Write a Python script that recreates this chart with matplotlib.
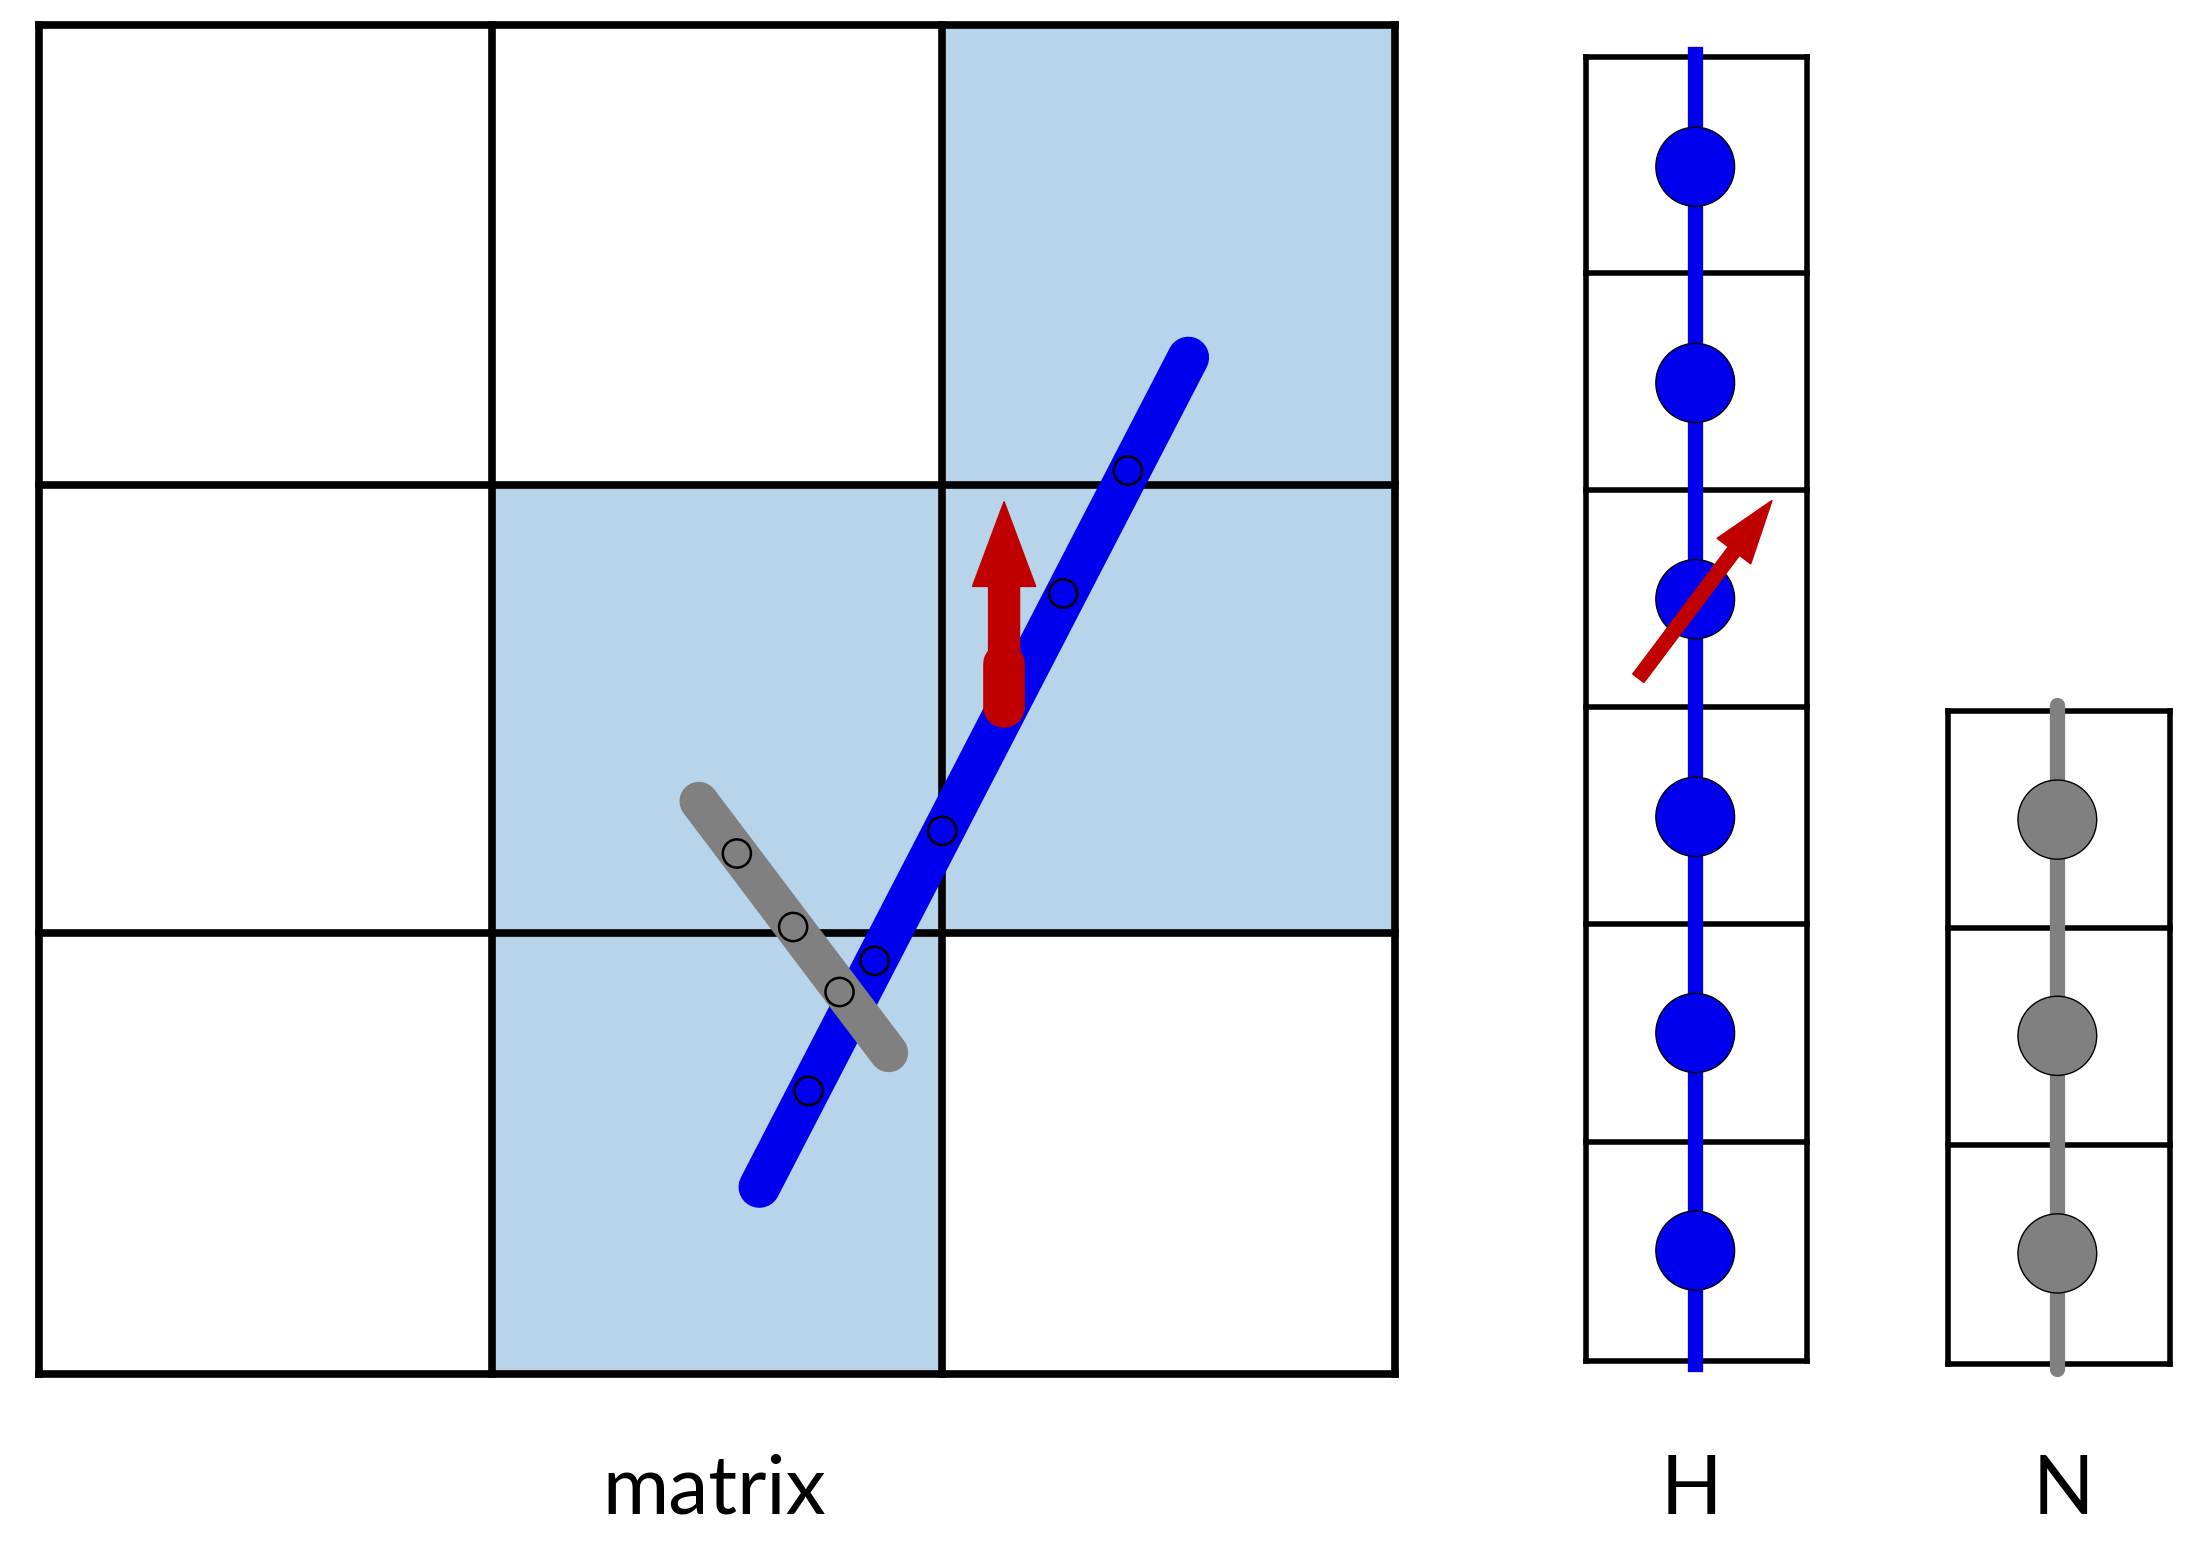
import matplotlib.pyplot as plt
from matplotlib.patches import Rectangle, Circle, FancyArrow

# layout in reference pixel space (display 1560x1100)
grid_x = [28, 350, 670, 992]
grid_y = [18, 343, 660, 972]
shaded = [(2, 0), (1, 1), (2, 1), (1, 2)]  # (col, row)

blue_line = [(540, 840), (845, 253)]
blue_pts = [(575, 772), (622, 680), (670, 588), (756, 420), (802, 333)]
gray_line = [(497, 567), (632, 745)]
gray_pts = [(524, 604), (564, 656), (597, 702)]

h_x = [1128, 1285]
h_y = [40, 193, 347, 500, 654, 808, 963]
h_dots = [118, 271, 424, 578, 731, 885]
n_x = [1385, 1543]
n_y = [503, 657, 810, 965]
n_dots = [580, 733, 887]

BLUE = '#0000ee'
GRAY = '#808080'
RED = '#c00000'
SHADE = '#b8d4eb'

fig = plt.figure(figsize=(22.05, 15.53), dpi=100)
ax = fig.add_axes([0, 0, 1, 1])
ax.set_xlim(0, 1568)
ax.set_ylim(1099, 0)
ax.axis('off')

for c, r in shaded:
    ax.add_patch(Rectangle((grid_x[c], grid_y[r]), grid_x[c + 1] - grid_x[c],
                           grid_y[r + 1] - grid_y[r], color=SHADE, zorder=0))
for x in grid_x:
    ax.plot([x, x], [grid_y[0], grid_y[-1]], color='black', lw=5.5, zorder=1)
for y in grid_y:
    ax.plot([grid_x[0], grid_x[-1]], [y, y], color='black', lw=5.5, zorder=1)

ax.plot(*zip(*blue_line), color=BLUE, lw=30, solid_capstyle='round', zorder=2)
ax.plot(*zip(*gray_line), color=GRAY, lw=28, solid_capstyle='round', zorder=3)
for x, y in blue_pts:
    ax.add_patch(Circle((x, y), 10, fc=BLUE, ec='black', lw=1.8, zorder=4))
for x, y in gray_pts:
    ax.add_patch(Circle((x, y), 10, fc=GRAY, ec='black', lw=1.8, zorder=4))

ax.add_patch(FancyArrow(714, 500, 0, -85, width=22, head_width=45, head_length=60,
                        color=RED, zorder=5))
ax.plot([714, 714], [500, 470], color=RED, lw=30, solid_capstyle='round', zorder=5)

# H column
for y in h_y:
    ax.plot(h_x, [y, y], color='black', lw=4, zorder=1)
for x in h_x:
    ax.plot([x, x], [h_y[0], h_y[-1]], color='black', lw=4, zorder=1)
hc = sum(h_x) / 2 - 1
ax.plot([hc, hc], [h_y[0] - 2, h_y[-1] + 2], color=BLUE, lw=11, zorder=2)
for y in h_dots:
    ax.add_patch(Circle((hc, y), 28, fc=BLUE, ec='black', lw=1, zorder=3))
ax.add_patch(FancyArrow(1165, 480, 68, -90, width=10, head_width=30, head_length=45,
                        color=RED, zorder=5))

# N column
for y in n_y:
    ax.plot(n_x, [y, y], color='black', lw=4, zorder=1)
for x in n_x:
    ax.plot([x, x], [n_y[0], n_y[-1]], color='black', lw=4, zorder=1)
nc = sum(n_x) / 2 - 1
ax.plot([nc, nc], [n_y[0] - 4, n_y[-1] + 4], color=GRAY, lw=11,
        solid_capstyle='round', zorder=2)
for y in n_dots:
    ax.add_patch(Circle((nc, y), 28, fc=GRAY, ec='black', lw=1, zorder=3))

for txt, x in [('matrix', 508), ('H', 1203), ('N', 1467)]:
    ax.text(x, 1055, txt, ha='center', va='center', fontsize=58, family='Lato')

fig.savefig('out.png', dpi=100)
